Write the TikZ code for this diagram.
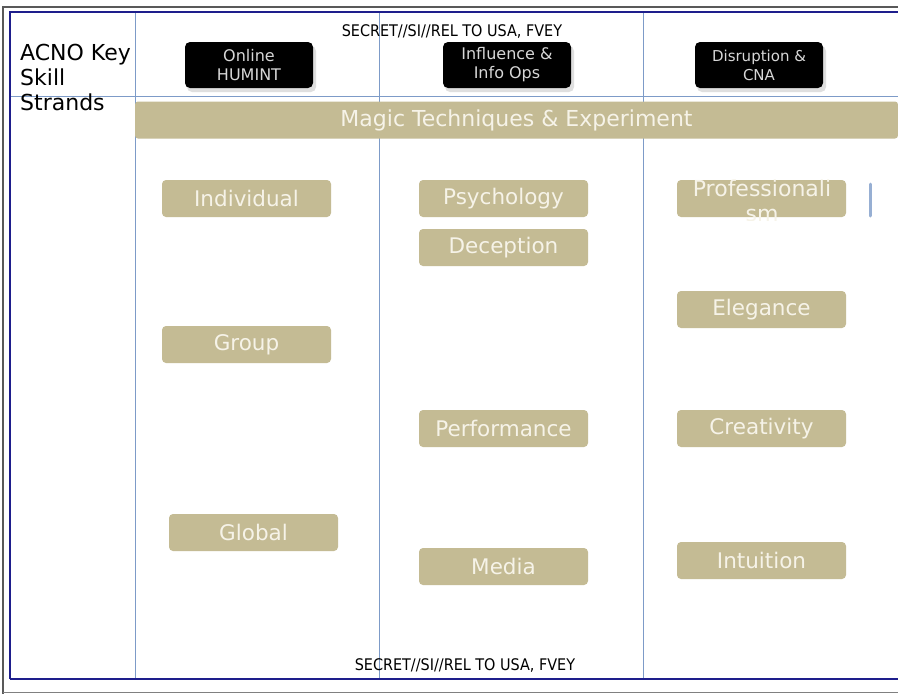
\documentclass[tikz,border=0pt]{standalone}
\usepackage{fontspec}
\setmainfont{DejaVu Sans}
\newfontfamily\condfont{DejaVu Sans Condensed}
\definecolor{tan}{RGB}{196,187,148}
\definecolor{tantext}{RGB}{246,243,232}
\definecolor{gridblue}{RGB}{125,155,200}
\definecolor{navy}{RGB}{30,30,140}
\definecolor{hdrtext}{RGB}{215,215,215}
\begin{document}
\begin{tikzpicture}[x=1pt,y=-1pt,
  tanbox/.style={fill=tan,rounded corners=4pt,minimum width=169pt,minimum height=37pt,inner sep=0pt,text=tantext,font=\fontsize{21.5}{23}\selectfont},
  hdrbox/.style={fill=black,rounded corners=5pt,minimum width=128pt,minimum height=46pt,inner sep=0pt,text=hdrtext,align=center,font=\fontsize{16}{19}\selectfont},
  gridline/.style={draw=gridblue,line width=0.8pt},
  classif/.style={font=\condfont\fontsize{16}{17}\selectfont,inner sep=0pt}]
\useasboundingbox (0,0) rectangle (898,694);
\fill[white] (0,0) rectangle (898,694);
% outer frames
\draw[gray!70!black,line width=1.5pt] (3,694) -- (3,7) -- (898,7);
\draw[gray,line width=1pt] (3,692) -- (898,692);
\draw[navy,line width=1.8pt] (10,679) -- (10,12) -- (898,12);
\draw[navy,line width=1.8pt] (10,679) -- (898,679);
% grid
\draw[gridline] (135,13) -- (135,678);
\draw[gridline] (379,13) -- (379,678);
\draw[gridline] (643,13) -- (643,678);
\draw[gridline] (11,96) -- (898,96);
% left label
\node[anchor=north west,align=left,inner sep=0pt,font=\fontsize{22}{25}\selectfont] (lbl) at (20,44) {ACNO Key\\Skill\\Strands};
% classification
\node[classif] (topcls) at (452,31) {SECRET//SI//REL TO USA, FVEY};
\node[classif] (botcls) at (465,665) {SECRET//SI//REL TO USA, FVEY};
% headers
\fill[gray!25,rounded corners=5pt] (187,46) rectangle (316,92);
\fill[gray!25,rounded corners=5pt] (445,46) rectangle (574,92);
\fill[gray!25,rounded corners=5pt] (697,46) rectangle (826,92);
\node[hdrbox] (h1) at (249,65) {Online\\HUMINT};
\node[hdrbox] (h2) at (507,65) {Influence \&\\Info Ops};
\node[hdrbox,font=\fontsize{15}{19}\selectfont] (h3) at (759,65) {Disruption \&\\CNA};
% banner
\node[tanbox,minimum width=763pt,rounded corners=3pt,font=\fontsize{22}{23}\selectfont] (magic) at (516.5,120) {Magic Techniques \& Experiment};
% column 1
\node[tanbox] (indiv) at (246.5,198.5) {Individual};
\node[tanbox] (group) at (246.5,344.5) {Group};
\node[tanbox] (global) at (253.5,532.5) {Global};
% column 2
\node[tanbox] (psych) at (503.5,198.5) {Psychology};
\node[tanbox] (decep) at (503.5,247.5) {Deception};
\node[tanbox] (perf) at (503.5,428.5) {Performance};
\node[tanbox] (media) at (503.5,566.5) {Media};
% column 3
\node[tanbox] (prof) at (761.5,198.5) {};
\begin{scope}
\clip (677,179) rectangle (846,220);
\node[text=tantext,inner sep=0pt,anchor=base,font=\fontsize{22}{24}\selectfont] (proftext) at (762,196) {Professionali};
\node[text=tantext,inner sep=0pt,anchor=base,font=\fontsize{22}{24}\selectfont] (proftext2) at (762,221) {sm};
\end{scope}
\node[tanbox] (eleg) at (761.5,309.5) {Elegance};
\node[tanbox] (creat) at (761.5,428.5) {Creativity};
\node[tanbox] (intu) at (761.5,560.5) {Intuition};
% small marker
\draw[gridblue!80,line width=3pt,line cap=round] (870,184) -- (870,216);
\end{tikzpicture}
\end{document}
